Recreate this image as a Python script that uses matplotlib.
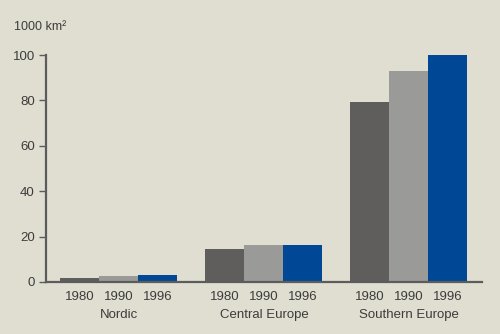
import numpy as np
import matplotlib.pyplot as plt

# Area in 1000 km2 by region and year
regions = ["Nordic", "Central Europe", "Southern Europe"]
years = ["1980", "1990", "1996"]
v1980 = [1.9, 14.7, 79.3]
v1990 = [2.6, 16.4, 92.8]
v1996 = [3.0, 16.3, 100.0]

colors = ["#5f5e5c", "#9a9a98", "#004896"]
bg = "#dfded0"
txt = "#3c3c3c"

plt.rcParams["font.family"] = ["Liberation Sans", "DejaVu Sans"]

fig = plt.figure(figsize=(5, 3.34), dpi=100, facecolor=bg)
ax = fig.add_axes([0.092, 0.1557, 0.872, 0.6796], facecolor=bg)

x = np.arange(len(regions))
w = 0.269
for k, vals in enumerate([v1980, v1990, v1996]):
    ax.bar(x + (k - 1) * w, vals, width=w, color=colors[k], linewidth=0, zorder=2)

ax.set_xlim(-0.503, 2.504)
ax.set_ylim(0, 100)
ax.set_yticks([0, 20, 40, 60, 80, 100])

for s in ["top", "right"]:
    ax.spines[s].set_visible(False)
for s in ["left", "bottom"]:
    ax.spines[s].set_color("#5c5c5c")
    ax.spines[s].set_linewidth(1.6)
ax.spines["bottom"].set_zorder(3)

ax.tick_params(axis="y", length=5, width=1, color="#5c5c5c", labelsize=9.5,
               labelcolor=txt, pad=3)
ax.tick_params(axis="x", length=0)
ax.set_xticks([])

# year labels under each bar, region names below
for i in range(len(regions)):
    for k, yr in enumerate(years):
        ax.text(x[i] + (k - 1) * w, -3.8, yr, ha="center", va="top",
                fontsize=9.5, color=txt, clip_on=False)
    ax.text(x[i], -12.0, regions[i], ha="center", va="top",
            fontsize=9.5, color=txt, clip_on=False)

fig.text(0.028, 0.918, "1000 km²", fontsize=9, color=txt, va="center")

fig.savefig("out.png", dpi=100, facecolor=bg)
